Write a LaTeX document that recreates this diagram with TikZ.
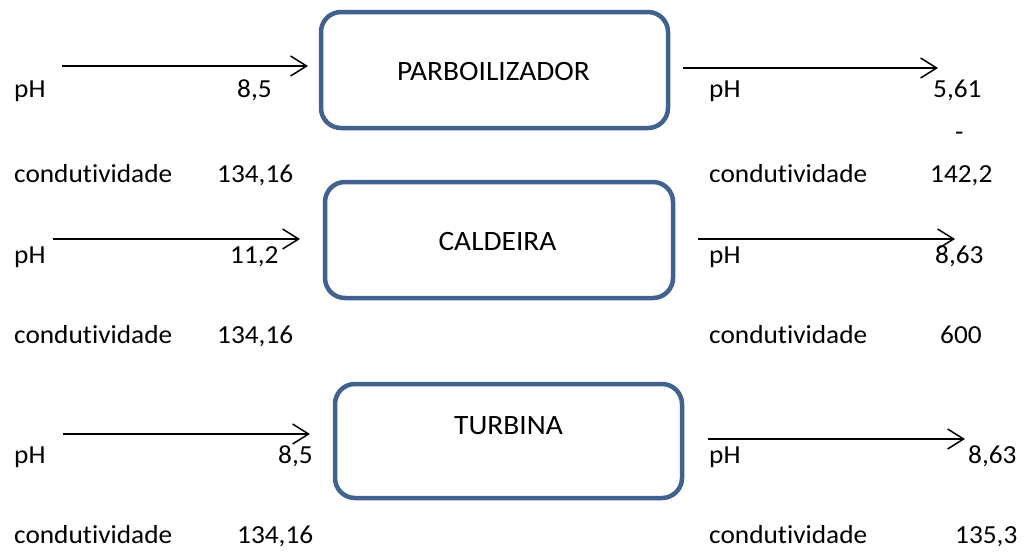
\documentclass[tikz,border=0pt]{standalone}
\usepackage{fontspec}
\setmainfont{Carlito}[FakeStretch=1.05, Ligatures=NoCommon]
\usetikzlibrary{arrows.meta}
\definecolor{boxblue}{HTML}{41628F}
\begin{document}
\begin{tikzpicture}[x=1pt,y=-1pt,
  unitbox/.style={draw=boxblue, line width=4.5pt, rounded corners=20pt, fill=white, inner sep=0pt},
  unitname/.style={anchor=base, inner sep=0pt, font=\fontsize{28}{32}\selectfont},
  flow/.style={line width=1.5pt, -{Straight Barb[length=16pt,width=20pt,line width=1.5pt]}},
  txt/.style={anchor=base west, inner sep=0pt, font=\fontsize{26}{30}\selectfont}]
\useasboundingbox[fill=white] (0,0) rectangle (1025,552);

% process units
\node[unitbox, minimum width=347pt, minimum height=116pt] (parb) at (494.5,70) {};
\node[unitbox, minimum width=348pt, minimum height=116pt] (cald) at (499,240) {};
\node[unitbox, minimum width=347pt, minimum height=114pt] (turb) at (508.5,441) {};
\node[unitname] (parbt) at (493.5,80) {PARBOILIZADOR};
\node[unitname] (caldt) at (497.5,250) {CALDEIRA};
\node[unitname] (turbt) at (508.5,434) {TURBINA};

% inlet / outlet arrows
\coordinate (in1s) at (62,66);   \coordinate (in1e) at (308,66);
\coordinate (out1s) at (683,68); \coordinate (out1e) at (938,68);
\coordinate (in2s) at (53,239);  \coordinate (in2e) at (300,239);
\coordinate (out2s) at (698,239); \coordinate (out2e) at (955,239);
\coordinate (in3s) at (63,434);  \coordinate (in3e) at (310,434);
\coordinate (out3s) at (708,439); \coordinate (out3e) at (965,439);
\draw[flow] (in1s) -- (in1e);
\draw[flow] (out1s) -- (out1e);
\draw[flow] (in2s) -- (in2e);
\draw[flow] (out2s) -- (out2e);
\draw[flow] (in3s) -- (in3e);
\draw[flow] (out3s) -- (out3e);

% parboilizador streams
\node[txt] (ph1i) at (14,97) {pH};
\node[txt] (ph1iv) at (237,97) {8,5};
\node[txt] (c1i) at (14,182) {condutividade};
\node[txt] (c1iv) at (217,182) {134,16};
\node[txt] (ph1o) at (709,97) {pH};
\node[txt] (ph1ov) at (933,97) {5,61};
\node[txt] (dash1) at (955,140) {-};
\node[txt] (c1o) at (709,182) {condutividade};
\node[txt] (c1ov) at (930,182) {142,2};

% caldeira streams
\node[txt] (ph2i) at (14,263) {pH};
\node[txt] (ph2iv) at (230,263) {11,2};
\node[txt] (c2i) at (14,343) {condutividade};
\node[txt] (c2iv) at (217,343) {134,16};
\node[txt] (ph2o) at (709,263) {pH};
\node[txt] (ph2ov) at (935,263) {8,63};
\node[txt] (c2o) at (709,343) {condutividade};
\node[txt] (c2ov) at (940,343) {600};

% turbina streams
\node[txt] (ph3i) at (14,463) {pH};
\node[txt] (ph3iv) at (278,463) {8,5};
\node[txt] (c3i) at (14,543) {condutividade};
\node[txt] (c3iv) at (237,543) {134,16};
\node[txt] (ph3o) at (709,463) {pH};
\node[txt] (ph3ov) at (968,463) {8,63};
\node[txt] (c3o) at (709,543) {condutividade};
\node[txt] (c3ov) at (955,543) {135,3};
\end{tikzpicture}
\end{document}
